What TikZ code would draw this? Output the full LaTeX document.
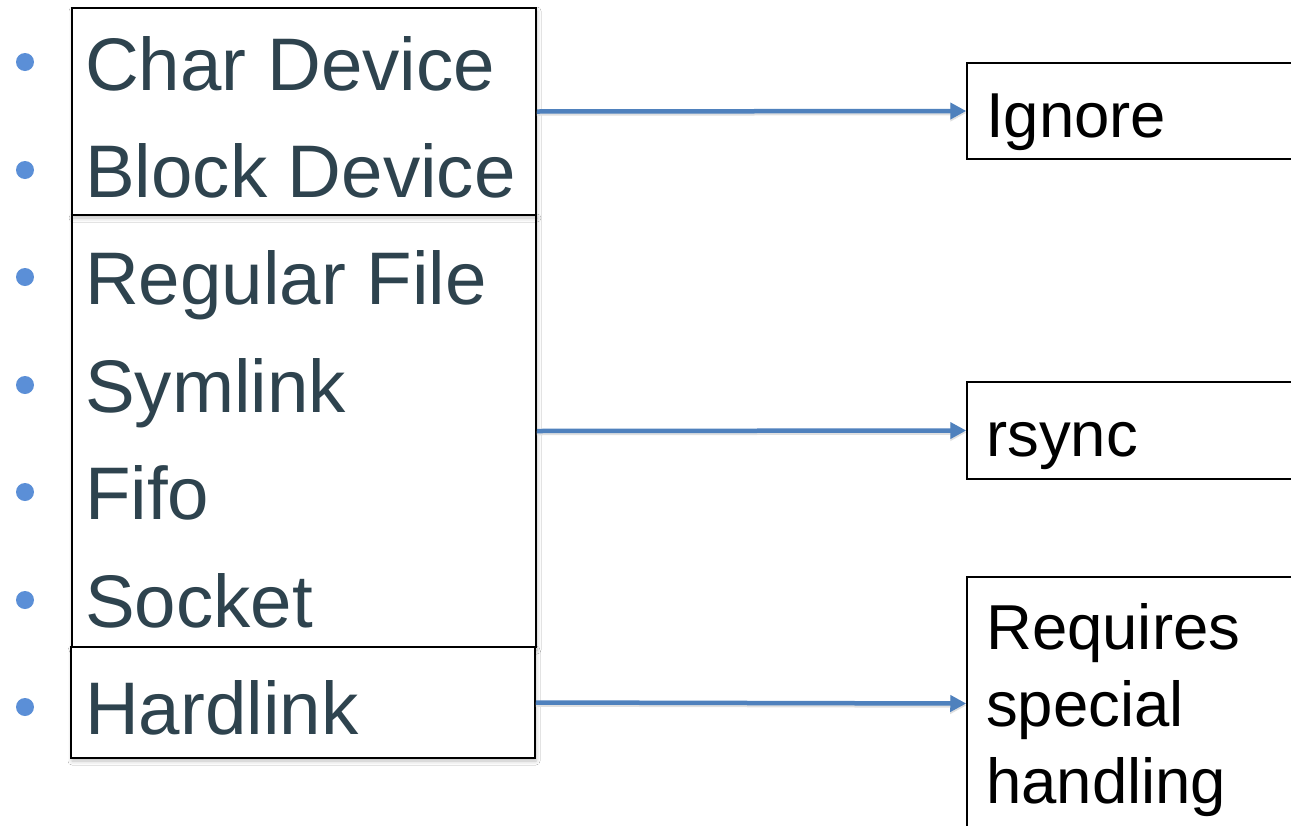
\documentclass[tikz,border=0pt]{standalone}
\usepackage{fontspec}
\setmainfont{Liberation Sans}
\usetikzlibrary{arrows.meta,shadows.blur}
\definecolor{txt}{HTML}{2E434E}
\definecolor{bul}{HTML}{5B8FD7}
\definecolor{arr}{HTML}{4F81BD}
\begin{document}
\begin{tikzpicture}[x=1pt,y=-1pt,
  lbox/.style={draw=black, line width=1.8pt, fill=white, minimum width=464pt, inner sep=0pt,
    blur shadow={shadow xshift=1pt, shadow yshift=-3pt, shadow blur radius=4pt, shadow opacity=25}},
  rbox/.style={draw=black, line width=1.5pt, fill=white, minimum width=328pt, inner sep=0pt},
  ltext/.style={anchor=base west, inner sep=0pt, text=txt, font=\fontsize{74.5}{107}\selectfont},
  rtext/.style={inner sep=0pt, text=black, font=\fontsize{63.5}{77}\selectfont},
  bulletdot/.style={circle, fill=bul, minimum size=18pt, inner sep=0pt},
  conn/.style={draw=arr, line width=4.5pt, -{Triangle[length=16pt,width=16pt]},
    preaction={draw=black!12, line width=4.5pt, transform canvas={yshift=-2pt}, -{Triangle[length=16pt,width=16pt]}}}]
\useasboundingbox (0,0) rectangle (1291,825);
\clip (0,0) rectangle (1291,825);
\fill[white] (0,0) rectangle (1291,825);
% left boxes
\node[lbox, minimum height=432pt] (b2) at (304,431) {};
\node[lbox, minimum height=207pt] (b1) at (304,111.5) {};
\node[lbox, minimum height=111pt] (b3) at (303,702.5) {};
% bullets
\node[bulletdot] (u1) at (25,62) {};
\node[bulletdot] (u2) at (25,170) {};
\node[bulletdot] (u3) at (25,277) {};
\node[bulletdot] (u4) at (25,385) {};
\node[bulletdot] (u5) at (25,492) {};
\node[bulletdot] (u6) at (25,600) {};
\node[bulletdot] (u7) at (25,707) {};
% left texts
\node[ltext] (t1) at (85,90) {Char Device};
\node[ltext] (t2) at (85,197) {Block Device};
\node[ltext] (t3) at (85,304) {Regular File};
\node[ltext] (t4) at (85,412) {Symlink};
\node[ltext] (t5) at (85,519) {Fifo};
\node[ltext] (t6) at (85,627) {Socket};
\node[ltext] (t7) at (85,734) {Hardlink};
% right boxes
\node[rbox, minimum height=96pt] (ig) at (1131,111) {};
\node[rbox, minimum height=97pt] (rs) at (1131,430.5) {};
\node[rbox, minimum height=253pt] (rq) at (1131,703.5) {};
\node[rtext, anchor=base west] (it) at (986,137) {Ignore};
\node[rtext, anchor=base west] (rt) at (986,456) {rsync};
\node[rtext, anchor=north west, align=left] (qt) at (986,603) {Requires\\special\\handling};
% connectors
\draw[conn] (b1.east) -- (ig.west);
\draw[conn] (b2.east) -- (rs.west);
\draw[conn] (b3.east) -- (rq.west);
\end{tikzpicture}
\end{document}
